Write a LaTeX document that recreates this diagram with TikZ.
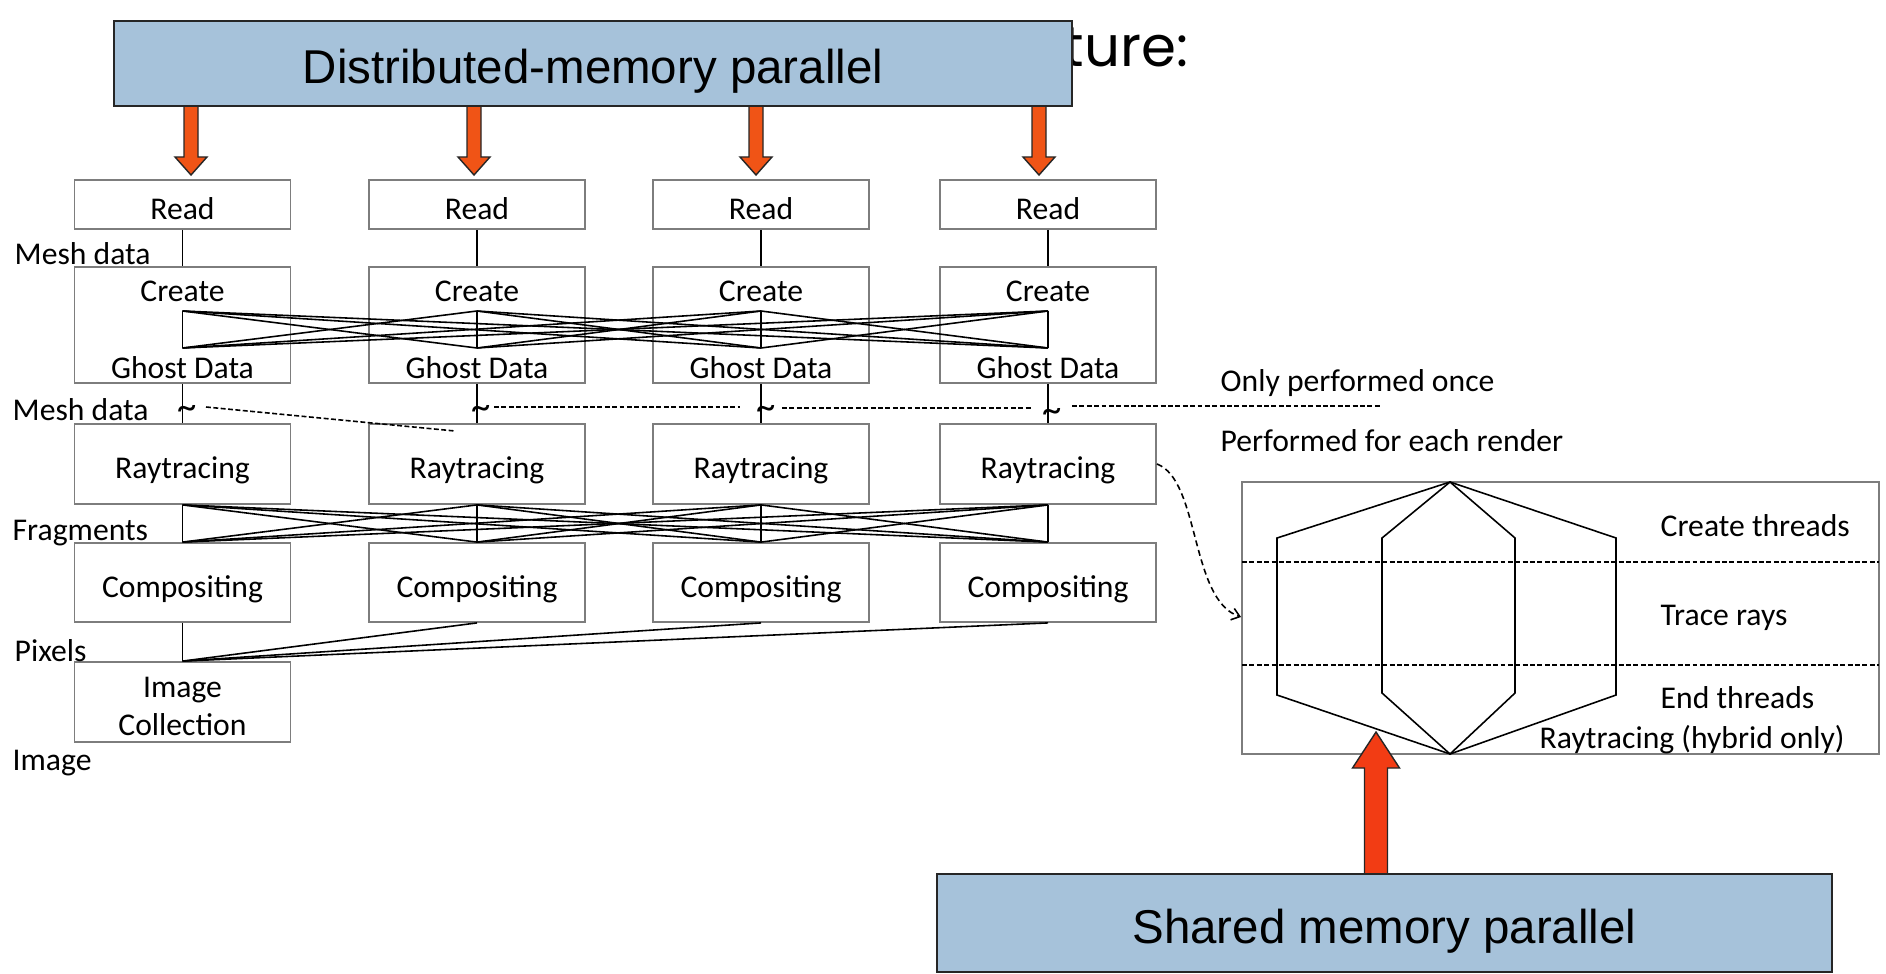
\documentclass[tikz,border=0pt]{standalone}
\usepackage{fontspec}
\setmainfont{Carlito}
\newfontfamily\arialf{Liberation Sans}
\newfontfamily\titlef{Poppins}
\usetikzlibrary{arrows.meta}
\definecolor{boxblue}{RGB}{166,194,218}
\definecolor{arrowor}{RGB}{240,84,22}
\definecolor{arrowred}{RGB}{242,60,20}
\definecolor{boxgray}{RGB}{125,125,125}
\begin{document}
\begin{tikzpicture}[x=0.01cm,y=-0.01cm,
  stagebox/.style={draw=boxgray, line width=0.5pt, minimum width=2.16cm, inner sep=0pt, font=\fontsize{9}{10.8}\selectfont},
  onel/.style={text height=8.3pt, text depth=0pt},
  lbl/.style={font=\fontsize{9}{10.8}\selectfont, inner sep=0pt},
  tildelbl/.style={font=\fontsize{11}{12}\selectfont, inner sep=0pt},
  conn/.style={line width=0.45pt},
  dsh/.style={line width=0.45pt, dash pattern=on 1.4pt off 0.7pt},
  curvedash/.style={line width=0.45pt, dash pattern=on 1.7pt off 1.1pt},
  bigbox/.style={draw=black!85, fill=boxblue, line width=0.6pt, font=\arialf\fontsize{13.5}{16}\selectfont, text depth=0pt, inner sep=0pt},
  fatarrow/.style={draw=black!85, line width=0.4pt}]
\useasboundingbox (0,0) rectangle (1886,973);

% visible end of the title, the rest is hidden by the blue box
\node[font=\titlef\fontsize{16}{18}\selectfont, anchor=base east, inner sep=0pt] (title) at (1189,67) {ture:};

% orange arrows from the distributed box
\foreach \x in {191,474,756,1039} {
  \draw[fatarrow, fill=arrowor] (\x-7,106) -- (\x-7,157) -- (\x-16,157) -- (\x,175) -- (\x+16,157) -- (\x+7,157) -- (\x+7,106) -- cycle;
}
\node[bigbox, text height=11.6pt, minimum width=9.58cm, minimum height=0.85cm] (dist) at (593,63.5) {Distributed-memory parallel};

% columns
\foreach \i/\x in {1/182.5,2/477,3/761,4/1048} {
  \node[stagebox,onel,minimum height=0.49cm] (rd\i) at (\x,204.5) {Read};
  \node[stagebox,minimum height=1.16cm] (cg\i) at (\x,325) {};
  \node[lbl,anchor=base] (cgt\i) at (\x,301) {Create};
  \node[lbl,anchor=base] (cgb\i) at (\x,378) {Ghost Data};
  \node[stagebox,onel,minimum height=0.8cm] (rt\i) at (\x,464) {Raytracing};
  \node[stagebox,onel,minimum height=0.79cm] (cp\i) at (\x,582.5) {Compositing};
  \coordinate (gt\i) at (\x,311);
  \coordinate (gb\i) at (\x,348);
  \coordinate (ft\i) at (rt\i.south);
  \coordinate (fb\i) at (cp\i.north);
  \draw[conn] (rd\i.south) -- (cg\i.north);
  \draw[conn] (cg\i.south) -- (rt\i.north);
}
\node[tildelbl] (tl1) at (187,412) {\textasciitilde};
\node[tildelbl] (tl2) at (481,412) {\textasciitilde};
\node[tildelbl] (tl3) at (766,412) {\textasciitilde};
\node[tildelbl] (tl4) at (1052,415) {\textasciitilde};

\node[stagebox, minimum height=0.8cm] (ic) at (182.5,702) {};
\node[lbl, align=center] (ictext) at (182.5,706) {Image\\Collection};

% all-to-all exchanges
\foreach \i in {1,...,4} {
  \foreach \j in {1,...,4} {
    \draw[conn] (gt\i) -- (gb\j);
    \draw[conn] (ft\i) -- (fb\j);
  }
  \draw[conn] (cp\i.south) -- (ic.north);
}

% dashed separators
\coordinate (da1) at (206,407); \coordinate (db1) at (455,431);
\coordinate (da2) at (494,407); \coordinate (db2) at (740,407);
\coordinate (da3) at (782,408); \coordinate (db3) at (1031,408);
\coordinate (da4) at (1072,406); \coordinate (db4) at (1382,406);
\foreach \i in {1,...,4} { \draw[dsh] (da\i) -- (db\i); }

% left labels
\node[lbl, anchor=base west] (lm1) at (14,264) {Mesh data};
\node[lbl, anchor=base west] (lm2) at (12,420) {Mesh data};
\node[lbl, anchor=base west] (lfr) at (12,540) {Fragments};
\node[lbl, anchor=base west] (lpx) at (14,661) {Pixels};
\node[lbl, anchor=base west] (lim) at (12,770) {Image};

\node[lbl, anchor=base west] (once) at (1220,391) {Only performed once};
\node[lbl, anchor=base west] (each) at (1220,451) {Performed for each render};

% right box
\node[draw=boxgray, line width=0.5pt, minimum width=6.37cm, minimum height=2.72cm, inner sep=0pt] (rb) at (1560.5,618) {};
\coordinate (s1l) at (1242,562); \coordinate (s1r) at (1879,562);
\coordinate (s2l) at (1242,665); \coordinate (s2r) at (1879,665);
\draw[dsh] (s1l) -- (s1r);
\draw[dsh] (s2l) -- (s2r);
\coordinate (htop) at (1450,482);
\coordinate (hbot) at (1450,754);
\draw[conn] (htop) -- (1277,538) -- (1277,695) -- (hbot) -- (1616,695) -- (1616,538) -- cycle;
\draw[conn] (htop) -- (1382,538) -- (1382,693) -- (hbot) -- (1515,693) -- (1515,538) -- cycle;

\node[lbl, anchor=base west] (tcreate) at (1660,536) {Create threads};
\node[lbl, anchor=base west] (ttrace) at (1660,625) {Trace rays};
\node[lbl, anchor=base west] (tend) at (1660,708) {End threads};
\node[lbl, anchor=base west] (thyb) at (1539,748) {Raytracing (hybrid only)};

% dashed curve to the right box
\coordinate (cin) at (1241,617);
\draw[curvedash, -{Straight Barb[length=2.2pt,width=3.4pt]}] (rt4.east) .. controls (1200,480) and (1190,600) .. (cin);

% shared memory arrow and box
\draw[fatarrow, fill=arrowred] (1364.5,874) -- (1364.5,768) -- (1352.5,768) -- (1376,732) -- (1399.5,768) -- (1387.5,768) -- (1387.5,874) -- cycle;
\node[bigbox, text height=11.9pt, minimum width=8.95cm, minimum height=0.98cm] (shared) at (1384.5,923) {Shared memory parallel};
\end{tikzpicture}
\end{document}
